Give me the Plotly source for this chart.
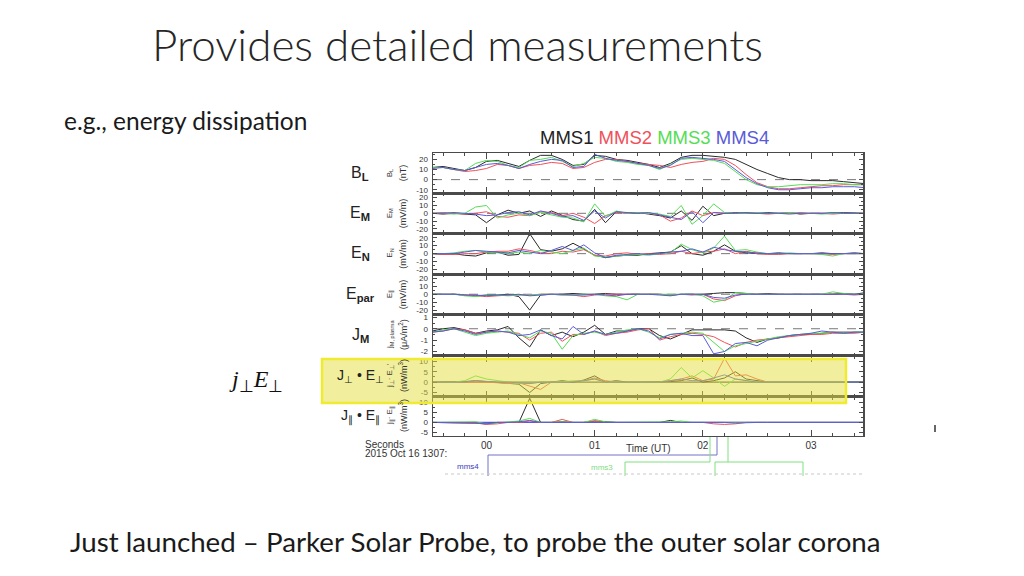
import plotly.graph_objects as go

# ---------------- data ----------------
T = [-0.5, -0.4, -0.3, -0.2, -0.1, 0.0, 0.1, 0.2, 0.3, 0.4,
     0.5, 0.6, 0.7, 0.8, 0.9, 1.0, 1.1, 1.2, 1.3, 1.4,
     1.5, 1.6, 1.7, 1.8, 1.9, 2.0, 2.1, 2.2, 2.3, 2.4,
     2.5, 2.6, 2.7, 2.8, 2.9, 3.0, 3.1, 3.2, 3.3, 3.4, 3.5]

SPACECRAFT = ["MMS1", "MMS2", "MMS3", "MMS4"]

BL_MMS1 = [12, 13, 11, 9, 12, 18, 19, 16, 13, 19, 24, 24, 20, 14, 15, 24, 23, 20, 19, 17,
           15, 12, 16, 22, 24, 24, 23, 22, 20, 15, 10, 6, 2, 0, 0, -1, -1, -1, -2, -3, -4]
BL_MMS2 = [12, 12, 10, 8, 9, 11, 15, 14, 11, 14, 15, 17, 16, 11, 12, 17, 20, 20, 18, 16,
           15, 14, 12, 15, 17, 18, 21, 20, 14, 5, -3, -7, -9, -9, -8, -7, -6, -6, -5, -5, -5]
BL_MMS3 = [12, 12, 10, 9, 16, 19, 18, 14, 12, 19, 20, 22, 18, 13, 16, 22, 21, 18, 17, 15,
           14, 10, 15, 20, 21, 20, 19, 16, 8, 0, -5, -7, -7, -6, -5, -5, -5, -4, -4, -5, -5]
BL_MMS4 = [11, 12, 10, 9, 12, 15, 16, 14, 11, 15, 18, 20, 19, 12, 13, 25, 21, 19, 18, 16,
           14, 11, 14, 21, 22, 21, 20, 18, 10, 2, -4, -8, -10, -10, -9, -8, -8, -7, -7, -7, -8]

EM_MMS1 = [0, -1, 0, -1, -2, -12, -2, 4, 0, 3, -4, 3, -2, -8, -10, 5, -12, 2, 0, 1,
           -1, -3, -6, 3, -9, 9, -3, 0, 1, 0, 0, 1, 0, 1, -1, 0, 0, 0, 1, 0, 0]
EM_MMS2 = [0, 1, 0, -1, 0, 2, -4, -5, -2, -3, 2, 1, -3, 0, -5, -13, -3, 1, 0, 1,
           0, -2, -10, -6, 3, -3, 1, 0, 0, 1, 0, -1, 0, 0, 1, 0, 0, -1, 0, 0, 0]
EM_MMS3 = [0, 0, -1, 0, 8, 10, -6, -2, 0, -3, 1, -2, -5, -6, -11, 12, -4, 3, 0, 1,
           0, -1, -4, 10, -14, -3, 12, 1, 0, 0, 1, 0, 0, 1, 0, 0, -1, 0, 0, 0, 0]
EM_MMS4 = [0, 0, 1, 0, -1, -3, -2, 1, 2, -2, 3, 0, -4, -3, -9, 3, -6, 2, 1, 0,
           1, -2, -5, -8, 2, -12, 1, 0, 0, 1, 0, 0, 0, -1, 0, 0, 0, 1, 0, 0, 0]

EN_MMS1 = [0, -1, 0, -2, -3, 1, 2, -2, -1, 25, 5, 3, 6, 13, 6, -2, -5, -3, -2, -2,
           0, 1, 2, 10, 0, -2, 3, 11, 3, 1, 0, 0, 1, 0, 0, 0, 1, 0, 0, 1, 0]
EN_MMS2 = [0, -1, -1, 0, 0, 2, 3, 3, 6, 4, 1, 0, 3, 2, 5, -2, -3, 0, 1, -1,
           0, -1, 0, 3, 0, 2, 3, 6, 0, 3, 0, -1, -1, 0, 0, 0, 0, -1, 0, 0, 0]
EN_MMS3 = [0, 0, 1, 3, 4, 2, 1, 0, 2, 0, 4, 2, 0, 4, 7, -3, -4, -3, -2, -1,
           -2, 0, 1, 12, 5, 1, 7, 22, 4, 5, 2, 0, 0, 1, 0, 0, -1, -3, 0, 0, 0]
EN_MMS4 = [0, 0, 0, 2, 4, 3, 2, 1, 4, 2, 0, 4, 9, 4, 11, 1, -5, -2, -1, 0,
           -1, 0, 2, 3, 6, 2, 8, 5, 3, 2, 1, 0, 0, 0, 0, 0, 0, 0, 0, 0, 0]

EPAR_MMS1 = [0, 0, 0, -1, -2, -1, -1, 0, -3, -20, -1, 0, 0, 1, 0, 0, 1, 0, 0, 0,
             0, 0, -1, 0, 0, 0, 1, 2, 2, 1, 0, 1, 0, 0, 0, 0, 0, 0, 1, 0, 2]
EPAR_MMS2 = [0, 0, 0, -1, -2, -3, -2, -1, -1, -1, 0, 0, -1, -1, -3, -1, 0, 0, 0, 0,
             0, 0, -1, 0, -1, 0, -6, -8, -2, 1, 0, 0, 0, 0, 0, 0, 0, 0, 0, -1, 0]
EPAR_MMS3 = [0, 0, 0, -2, -3, -1, -1, -2, -1, -1, 0, 0, -1, -1, 0, 0, -2, -3, -7, 0,
             0, 0, 0, 0, 0, -2, -10, -7, 2, 1, 0, 0, 0, 0, 0, 0, 0, 3, 1, 0, 0]
EPAR_MMS4 = [0, 0, 0, -1, -1, -2, -1, -1, 0, -2, -1, 0, 0, -1, -1, 0, -1, -2, 0, 0,
             0, -1, -2, 0, 0, 0, -4, -5, -1, 0, 0, 0, 0, 0, 0, 0, 0, 0, 0, 0, 0]

JM_MMS1 = [-0.2, 0.0, 0.1, -0.1, -0.4, -0.2, -0.1, 0.2, -0.8, -1.6,
           -0.1, -0.6, -0.3, -0.7, -0.3, 0.3, -0.5, -0.2, -0.2, 0.0,
           0.0, -0.6, -0.9, -0.5, -0.1, -0.1, -0.1, -0.1, -0.2, -0.8,
           -1.2, -0.9, -0.8, -0.6, -0.5, -0.5, -0.4, -0.3, -0.3, -0.3, -0.3]
JM_MMS2 = [-0.3, -0.2, 0.0, -0.1, -0.4, -0.3, -0.2, -0.3, -0.4, -1.0,
           -0.4, -0.3, -1.1, -0.5, -0.5, -0.2, -0.6, -0.4, -0.3, -0.1,
           0.0, -1.0, -0.7, -0.5, -0.4, -0.5, -0.7, -1.2, -1.6, -1.2,
           -1.0, -0.9, -0.8, -0.7, -0.6, -0.5, -0.5, -0.4, -0.4, -0.4, -0.3]
JM_MMS3 = [-0.3, -0.1, 0.0, -0.3, -0.6, -0.4, -0.3, -0.2, -0.5, -0.8,
           -0.2, -0.4, -1.8, -0.6, -0.4, -0.3, -0.5, -0.3, -0.1, 0.0,
           -0.3, -0.8, -0.5, -0.4, -0.3, -0.4, -1.2, -2.0, -1.5, -1.3,
           -1.1, -0.9, -0.7, -0.6, -0.5, -0.4, -0.4, -0.3, -0.4, -0.3, -0.3]
JM_MMS4 = [-0.3, -0.2, 0.0, -0.2, -0.5, -0.3, -0.2, -0.3, -0.6, -0.5,
           -0.1, -0.6, -0.9, 0.2, -0.5, -0.2, -0.5, -0.4, -0.2, 0.0,
           -0.2, -0.9, -0.5, -0.4, -0.6, -0.6, -2.2, -2.0, -1.3, -1.2,
           -1.5, -1.0, -0.8, -0.6, -0.5, -0.4, -0.2, -0.3, -0.4, -0.3, -0.3]

JPERP_MMS1 = [0, 0, 0, 0.3, 0.7, 0.3, 0, -0.7, -1, -5, -0.7, 0, 0.7, 0, 1, 3, 0, 0.7, 0, 0,
              0, 0, 0.3, 0.7, 2, 0, 0.7, 2, 5, 1.5, 0.7, 0, 0, 0, 0, 0, 0, 0, 0, 0, 0]
JPERP_MMS2 = [0, 0, 0, 0, 0.3, 0, -0.3, -0.7, -0.3, -2, -3.5, 0, 0.3, 0.7, 0.7, 2, 0.7, 0, 0, 0,
              0, 0, 0.7, 1.5, 3, 0.7, 1.5, 11.5, 3, 3.5, 1.5, 0, 0, 0, 0, 0, 0, 0, 0, 0, 0]
JPERP_MMS3 = [0, 0, 0, 0.7, 3, 1.5, 0.7, 0, -0.7, -0.7, 0, 0, 0.3, 0.7, 0.7, 1.5, 0, 0, 0, 0,
              0, 0, 1.5, 7, 2, 5.5, 2, -2, 1.5, 0.7, 0, 0, 0, 0, 0, 0, 0, 0, 0, 0, 0]
JPERP_MMS4 = [0, 0, 0, 0, 0.7, 0.3, 0, 0, -0.3, -0.7, 0, 0, 0.3, 0, 0.7, 1.5, 0, 0, 0, 0,
              0, 0, 0.7, 1.5, 0.7, 0.7, 2, 3.5, 1.5, 0.7, 0, 0, 0, 0, 0, 0, 0, 0, 0, 0, 0]

JPAR_MMS1 = [0, 0, 0, 0, -0.3, -0.7, 0, 0, 0, 12, 0, 0, 0.3, 0, 0, 0.7, 0.3, 0, 0, 0,
             0.3, 0, 1, 0, 0, 0, 0, 0.3, 0, 0, 0, 0, 0, 0, 0, 0, 0, 0, 0, 0, 0]
JPAR_MMS2 = [0, 0, 0, 0, -0.3, -1, -0.7, 0, 0, 0.7, 0, 0, 1.5, 0, 0, 0.7, 0, 0, 0, 0,
             0, 0, 0, 0, 0, 0, -0.7, -1, -0.7, 0, 0, 0, 0, 0, 0, 0, 0, 0, 0, 0, 0]
JPAR_MMS3 = [0, 0, 0, 0, 0.3, -0.7, -0.3, 0, 0.7, 2, 0, 0, 0.3, 0, 0, 1.5, 0.3, 0, 0, 0,
             0, 0, 0.3, 0.7, 0, 0, 0, -0.3, 0, 0, 0, 0, 0, 0, 0, 0, 0, 0, 0, 0, 0]
JPAR_MMS4 = [0, 0, 0, 0, -0.3, -0.7, 0, 0, 0.3, 1, 0, 0, 0, 0, 0, 0, 0, 0, 0, 0,
             0, 0, 0, 0, 0, 0, 0.3, 0, -0.3, 0, 0, 0, 0, 0, 0, 0, 0, 0, 0, 0, 0]

PANEL_SERIES = [
    [BL_MMS1, BL_MMS2, BL_MMS3, BL_MMS4],
    [EM_MMS1, EM_MMS2, EM_MMS3, EM_MMS4],
    [EN_MMS1, EN_MMS2, EN_MMS3, EN_MMS4],
    [EPAR_MMS1, EPAR_MMS2, EPAR_MMS3, EPAR_MMS4],
    [JM_MMS1, JM_MMS2, JM_MMS3, JM_MMS4],
    [JPERP_MMS1, JPERP_MMS2, JPERP_MMS3, JPERP_MMS4],
    [JPAR_MMS1, JPAR_MMS2, JPAR_MMS3, JPAR_MMS4],
]

PANEL_NAMES = ["B<sub><b>L</b></sub>", "E<sub><b>M</b></sub>", "E<sub><b>N</b></sub>",
               "E<sub><b>par</b></sub>", "J<sub><b>M</b></sub>",
               "J<sub>⊥</sub> • E<sub>⊥</sub>", "J<sub>∥</sub> • E<sub>∥</sub>"]
PANEL_SYMBOLS = ["B<sub>L</sub>", "E<sub>M</sub>", "E<sub>N</sub>", "E<sub>∥</sub>",
                 "j<sub>M, plasma</sub>", "j<sub>⊥</sub>· E<sub>⊥</sub>'", "j<sub>∥</sub>· E<sub>∥</sub>"]
PANEL_UNITS = ["(nT)", "(mV/m)", "(mV/m)", "(mV/m)", "(μA/m<sup>2</sup>)",
               "(nW/m<sup>3</sup>)", "(nW/m<sup>3</sup>)"]

Y_TICKVALS = [[-10, 0, 10, 20], [-20, -10, 0, 10, 20], [-20, -10, 0, 10, 20],
              [-20, -10, 0, 10, 20], [-2, -1, 0, 1], [-5, 0, 5, 10], [-5, 0, 5, 10]]
Y_TICKTEXT = [[str(v) for v in tv] for tv in Y_TICKVALS]
X_TICKVALS = [0, 1, 2, 3]
X_TICKTEXT = ["00", "01", "02", "03"]

# ---------------- style / layout ----------------
W, H = 1024, 576
COLORS = ["#2a2a2a", "#f0505a", "#55dd55", "#5a5ad8"]
PX_LEFT, PX_RIGHT = 433, 863
EDGES = [153.3, 193.3, 233.3, 274, 314.5, 355.5, 396.7, 435.5]
Y_RANGES = [[-13.5, 26], [-25.5, 25.5], [-25.5, 25.5], [-25.5, 25.5], [-2.35, 1.25], [-7, 12.8], [-6.5, 12.8]]
Y_MINOR = [5, 5, 5, 5, 0.5, 2.5, 2.5]
X_RANGE = [-0.494, 3.48]
DASHED_ZERO = [True, True, True, True, True, False, False]


def fx(px):
    return px / W


def fy(py):
    return 1 - py / H


fig = go.Figure()
layout = dict(
    width=W, height=H, template="none",
    margin=dict(l=0, r=0, t=0, b=0, pad=0),
    paper_bgcolor="white", plot_bgcolor="white",
    showlegend=False,
)
shapes = []
annotations = []
AX_COLOR = "#4a4a4a"
TICK_FONT = dict(family="Liberation Sans, Arial", size=8, color="#333")

for i, series in enumerate(PANEL_SERIES):
    n = i + 1
    sfx = "" if n == 1 else str(n)
    xa, ya = "x" + sfx, "y" + sfx
    for s, vals in enumerate(series):
        fig.add_trace(go.Scatter(x=T, y=vals, xaxis=xa, yaxis=ya, mode="lines",
                                 line=dict(color=COLORS[s], width=1),
                                 name=SPACECRAFT[s], hoverinfo="skip"))
    last = (n == len(PANEL_SERIES))
    layout["xaxis" + sfx] = dict(
        domain=[fx(PX_LEFT), fx(PX_RIGHT)], anchor=ya, range=X_RANGE,
        showline=True, linecolor=AX_COLOR, linewidth=1.5, mirror="ticks",
        ticks="inside", tickvals=X_TICKVALS, ticktext=X_TICKTEXT, ticklen=6,
        tickcolor=AX_COLOR, tickwidth=1,
        minor=dict(dtick=0.2, tick0=0, ticks="inside", ticklen=3, tickcolor=AX_COLOR, showgrid=False),
        showticklabels=last, tickfont=dict(family="Liberation Sans, Arial", size=10, color="#333"),
        showgrid=False, zeroline=False, automargin=False, fixedrange=True,
    )
    layout["yaxis" + sfx] = dict(
        domain=[fy(EDGES[i + 1]), fy(EDGES[i])], anchor=xa, range=Y_RANGES[i],
        showline=True, linecolor=AX_COLOR, linewidth=1.5, mirror="ticks",
        ticks="inside", tickvals=Y_TICKVALS[i], ticktext=Y_TICKTEXT[i], ticklen=4,
        tickcolor=AX_COLOR, tickwidth=1,
        minor=dict(dtick=Y_MINOR[i], ticks="inside", ticklen=2, tickcolor=AX_COLOR, showgrid=False),
        tickfont=TICK_FONT, ticklabelstandoff=2,
        showgrid=False, zeroline=False, automargin=False, fixedrange=True,
    )
    # zero reference line
    if DASHED_ZERO[i]:
        shapes.append(dict(type="line", xref=xa + " domain", yref=ya, x0=0, x1=1, y0=0, y1=0,
                           line=dict(color="#777", width=1, dash="dash"), layer="below"))
    else:
        shapes.append(dict(type="line", xref=xa + " domain", yref=ya, x0=0, x1=1, y0=0, y1=0,
                           line=dict(color="#555" if i == 5 else "#5a5ad8", width=1.3), layer="below"))
    yc = (EDGES[i] + EDGES[i + 1]) / 2
    annotations.append(dict(x=fx(360), y=fy(yc), xref="paper", yref="paper", text=PANEL_NAMES[i],
                            showarrow=False, xanchor="center", yanchor="middle",
                            font=dict(family="Liberation Sans, Arial", size=16 if i < 5 else 14, color="#222")))
    annotations.append(dict(x=fx(390), y=fy(yc), xref="paper", yref="paper", text=PANEL_SYMBOLS[i],
                            showarrow=False, textangle=-90, xanchor="center", yanchor="middle",
                            font=dict(family="Liberation Sans, Arial", size=8, color="#333")))
    annotations.append(dict(x=fx(403), y=fy(yc), xref="paper", yref="paper", text=PANEL_UNITS[i],
                            showarrow=False, textangle=-90, xanchor="center", yanchor="middle",
                            font=dict(family="Liberation Sans, Arial", size=9, color="#333")))

# highlight box around the j_perp . E_perp panel
shapes.append(dict(type="rect", xref="paper", yref="paper", x0=fx(322), x1=fx(846), y0=fy(403), y1=fy(359),
                   fillcolor="rgba(228,224,60,0.5)", line=dict(color="#f0ea30", width=2.5), layer="above"))

# fragments of the next figure underneath
PURPLE = "#7272c8"
GREENL = "#80e080"
shapes += [
    dict(type="path", xref="paper", yref="paper",
         path=f"M {fx(488)} {fy(476)} L {fx(488)} {fy(455)} L {fx(717)} {fy(455)} L {fx(717)} {fy(437)}",
         line=dict(color=PURPLE, width=1)),
    dict(type="path", xref="paper", yref="paper",
         path=f"M {fx(625)} {fy(476)} L {fx(625)} {fy(462)} L {fx(710)} {fy(462)} L {fx(710)} {fy(437)}",
         line=dict(color=GREENL, width=1)),
    dict(type="path", xref="paper", yref="paper",
         path=f"M {fx(728)} {fy(437)} L {fx(728)} {fy(462)}",
         line=dict(color=GREENL, width=1)),
    dict(type="path", xref="paper", yref="paper",
         path=f"M {fx(715)} {fy(476)} L {fx(715)} {fy(462)} L {fx(803)} {fy(462)} L {fx(803)} {fy(476)}",
         line=dict(color=GREENL, width=1)),
    dict(type="line", xref="paper", yref="paper", x0=fx(445), x1=fx(862), y0=fy(474), y1=fy(474),
         line=dict(color="#c8c8c8", width=1, dash="dot")),
    dict(type="line", xref="paper", yref="paper", x0=fx(935), x1=fx(935), y0=fy(425), y1=fy(432),
         line=dict(color="#666", width=2)),
]

FONT_SLIDE = "Lato, Carlito, Calibri, sans-serif"
annotations += [
    dict(x=fx(150), y=fy(44), xref="paper", yref="paper", text="Provides detailed measurements",
         showarrow=False, xanchor="left", yanchor="middle",
         font=dict(family=FONT_SLIDE, size=44, color="#262626", weight=300)),
    dict(x=fx(62), y=fy(120), xref="paper", yref="paper", text="e.g., energy dissipation",
         showarrow=False, xanchor="left", yanchor="middle",
         font=dict(family=FONT_SLIDE, size=24.5, color="#1a1a1a")),
    dict(x=fx(68), y=fy(541), xref="paper", yref="paper",
         text="Just launched – Parker Solar Probe, to probe the outer solar corona",
         showarrow=False, xanchor="left", yanchor="middle",
         font=dict(family=FONT_SLIDE, size=27.7, color="#1a1a1a")),
    dict(x=fx(654), y=fy(137), xref="paper", yref="paper",
         text=" ".join(f"<span style='color:{c}'>{nm}</span>" for nm, c in
                       zip(SPACECRAFT, ["#222222", "#f0505a", "#55dd55", "#5a5ad8"])),
         showarrow=False, xanchor="center", yanchor="middle",
         font=dict(family="Liberation Sans, Arial", size=18.5, color="#222")),
    dict(x=fx(256), y=fy(381), xref="paper", yref="paper",
         text="<i>j</i><sub>⊥</sub><i>E</i><sub>⊥</sub>",
         showarrow=False, xanchor="center", yanchor="middle",
         font=dict(family="Liberation Serif, Times New Roman, serif", size=24, color="#111")),
    dict(x=fx(363), y=fy(444), xref="paper", yref="paper", text="Seconds",
         showarrow=False, xanchor="left", yanchor="middle",
         font=dict(family="Liberation Sans, Arial", size=10, color="#333")),
    dict(x=fx(363), y=fy(453), xref="paper", yref="paper", text="2015 Oct 16 1307:",
         showarrow=False, xanchor="left", yanchor="middle",
         font=dict(family="Liberation Sans, Arial", size=10, color="#333")),
    dict(x=fx(648), y=fy(448), xref="paper", yref="paper", text="Time (UT)",
         showarrow=False, xanchor="center", yanchor="middle",
         font=dict(family="Liberation Sans, Arial", size=10, color="#333")),
    dict(x=fx(468), y=fy(466), xref="paper", yref="paper", text="mms4",
         showarrow=False, xanchor="center", yanchor="middle",
         font=dict(family="Liberation Sans, Arial", size=8, color="#4040c0")),
    dict(x=fx(602), y=fy(467), xref="paper", yref="paper", text="mms3",
         showarrow=False, xanchor="center", yanchor="middle",
         font=dict(family="Liberation Sans, Arial", size=8, color="#80dd80")),
]

layout["shapes"] = shapes
layout["annotations"] = annotations
fig.update_layout(**layout)
fig.write_html("out.html", config={"displayModeBar": False, "staticPlot": True},
               post_script="document.body.style.margin='0px';")
